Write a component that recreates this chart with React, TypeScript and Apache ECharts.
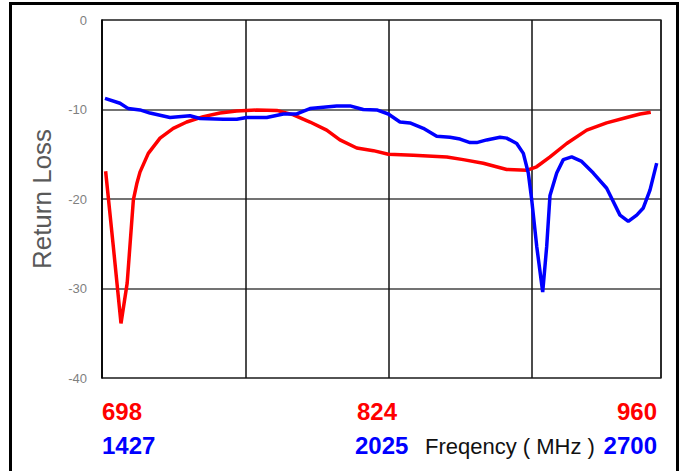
import React, { useEffect, useRef } from "react";
import * as echarts from "echarts";

// Red band (MHz) and return loss (dB)
const redFreq = [699.7, 703.3, 706.9, 709.8, 712.7, 714.3, 715.8, 719.7, 725.2, 731.4, 737.7, 745.5, 753.3, 761.1, 770.5, 779.9, 787.7, 795.5, 803.3, 809.5, 817.4, 825.2, 832.2, 843.9, 859.6, 867.3, 876.7, 887.7, 897.0, 901.7, 908.0, 915.8, 925.2, 934.5, 943.9, 950.2, 955.2];
const redLoss = [-16.9, -25.3, -33.9, -29.4, -20.1, -18.3, -17.0, -14.9, -13.2, -12.1, -11.4, -10.8, -10.4, -10.17, -10.06, -10.1, -10.6, -11.4, -12.3, -13.4, -14.3, -14.6, -15.0, -15.1, -15.3, -15.6, -16.0, -16.7, -16.8, -16.4, -15.3, -13.8, -12.3, -11.5, -10.9, -10.5, -10.3];

// Blue band (MHz) and return loss (dB)
const blueFreq = [1433.8, 1468, 1486.9, 1513.5, 1536.3, 1581.9, 1627.4, 1650.2, 1703.2, 1733.8, 1756.5, 1802.1, 1839.9, 1870.4, 1900.7, 1931.0, 1961.5, 1991.8, 2022.0, 2052.6, 2079.0, 2105.6, 2128.4, 2158.7, 2189.2, 2219.5, 2242.3, 2265.1, 2280.3, 2303.1, 2333.4, 2348.6, 2371.4, 2386.5, 2397.8, 2405.6, 2417.0, 2430.6, 2439.7, 2447.2, 2462.5, 2477.5, 2496.6, 2519.4, 2545.8, 2576.3, 2606.6, 2625.5, 2644.7, 2659.7, 2674.9, 2690.2];
const blueLoss = [-8.75, -9.3, -9.9, -10.05, -10.4, -10.9, -10.7, -11.0, -11.1, -11.1, -10.9, -10.9, -10.5, -10.5, -9.9, -9.75, -9.6, -9.6, -10.0, -10.05, -10.5, -11.4, -11.5, -12.1, -13.0, -13.1, -13.3, -13.7, -13.7, -13.4, -13.1, -13.2, -13.8, -14.9, -17.1, -20.1, -25.3, -30.4, -25.3, -19.6, -17.1, -15.6, -15.3, -15.8, -17.1, -18.8, -21.8, -22.5, -21.8, -21.0, -19.0, -16.0];

const redTicks = ["698", "824", "960"];
const blueTicks = ["1427", "2025", "2700"];
const yTicks = [-40, -30, -20, -10, 0];
const axisTitle = "Return Loss";
const freqTitle = "Freqency ( MHz )";

export default function App() {
  const ref = useRef<HTMLDivElement>(null);
  useEffect(() => {
    if (!ref.current) return;
    const chart = echarts.init(ref.current, null, { renderer: "svg" });
    const font = "'Liberation Sans', Arial, sans-serif";
    chart.setOption({
      animation: false,
      grid: { left: 102, right: 23, top: 20, bottom: 93, show: true, borderColor: "#555", borderWidth: 1.5 },
      xAxis: [
        {
          type: "value", min: 0, max: 3.9, interval: 1,
          axisLine: { show: false }, axisTick: { show: false }, axisLabel: { show: false },
          splitLine: { show: true, lineStyle: { color: "#111", width: 1.5 } },
        },
        { type: "value", min: 698, max: 960, show: false },
        { type: "value", min: 1427, max: 2700, show: false },
      ],
      yAxis: {
        type: "value", min: yTicks[0], max: yTicks[yTicks.length - 1], interval: 10,
        name: axisTitle, nameLocation: "middle", nameGap: 47,
        nameTextStyle: { fontSize: 26, color: "#595959", fontFamily: font },
        axisLine: { show: true, lineStyle: { color: "#000", width: 1.5 } },
        axisTick: { show: false },
        axisLabel: { color: "#7f7f7f", fontSize: 13, margin: 15, fontFamily: font },
        splitLine: { show: true, lineStyle: { color: "#444", width: 1.5 } },
      },
      series: [
        {
          type: "line", xAxisIndex: 1, showSymbol: false, symbol: "none",
          data: redFreq.map((f, i) => [f, redLoss[i]]),
          lineStyle: { color: "#ff0000", width: 3.5 },
        },
        {
          type: "line", xAxisIndex: 2, showSymbol: false, symbol: "none",
          data: blueFreq.map((f, i) => [f, blueLoss[i]]),
          lineStyle: { color: "#0000ff", width: 3.5 },
        },
      ],
      graphic: [
        { type: "rect", shape: { x: 10.5, y: 3.5, width: 667, height: 480 }, style: { fill: "none", stroke: "#000", lineWidth: 3 } },
        { type: "text", x: 102, y: 411, style: { text: redTicks[0], fill: "#ff0000", font: `bold 24px ${font}`, textAlign: "left", textVerticalAlign: "middle" } },
        { type: "text", x: 377, y: 411, style: { text: redTicks[1], fill: "#ff0000", font: `bold 24px ${font}`, textAlign: "center", textVerticalAlign: "middle" } },
        { type: "text", x: 657, y: 411, style: { text: redTicks[2], fill: "#ff0000", font: `bold 24px ${font}`, textAlign: "right", textVerticalAlign: "middle" } },
        { type: "text", x: 102, y: 445, style: { text: blueTicks[0], fill: "#0000ff", font: `bold 24px ${font}`, textAlign: "left", textVerticalAlign: "middle" } },
        { type: "text", x: 355, y: 445, style: { text: blueTicks[1], fill: "#0000ff", font: `bold 24px ${font}`, textAlign: "left", textVerticalAlign: "middle" } },
        { type: "text", x: 425, y: 446, style: { text: freqTitle, fill: "#111", font: `22px ${font}`, textAlign: "left", textVerticalAlign: "middle" } },
        { type: "text", x: 657, y: 445, style: { text: blueTicks[2], fill: "#0000ff", font: `bold 24px ${font}`, textAlign: "right", textVerticalAlign: "middle" } },
      ],
    });
    return () => chart.dispose();
  }, []);
  return <div ref={ref} style={{ position: "fixed", left: 0, top: 0, width: 684, height: 471, background: "#fff" }} />;
}
